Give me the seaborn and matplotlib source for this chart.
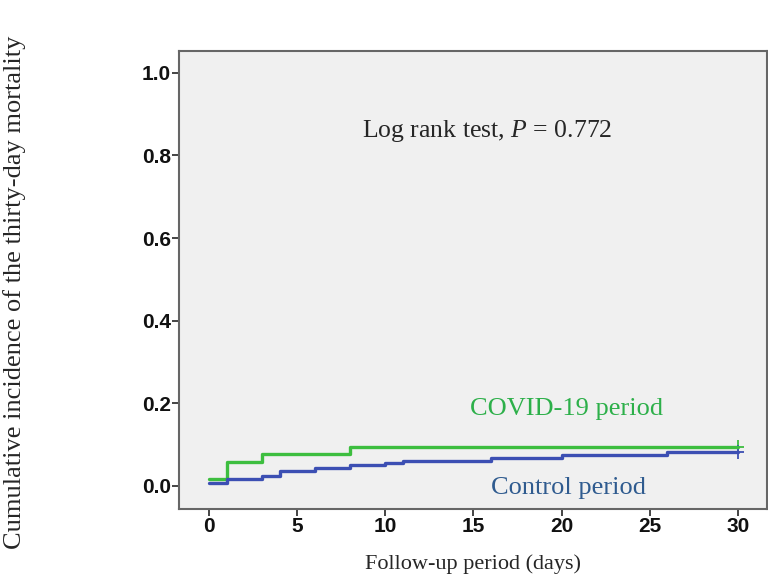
import pandas as pd
import seaborn as sns
import matplotlib.pyplot as plt

# 讀取曲線資料 (從圖上估計)
covid_days = [0, 1, 3, 8, 30]
covid_inc = [0.017, 0.057, 0.077, 0.094, 0.094]

control_days = [0, 1, 3, 4, 6, 8, 10, 11, 16, 20, 26, 30]
control_inc = [0.007, 0.017, 0.023, 0.036, 0.043, 0.050, 0.055, 0.060, 0.067, 0.075, 0.082, 0.082]

groups = ["COVID-19 period", "Control period"]
x_ticks = [0, 5, 10, 15, 20, 25, 30]
y_ticks = [0.0, 0.2, 0.4, 0.6, 0.8, 1.0]

green = "#3DBE3F"
blue = "#3C4FB3"

df = pd.concat([
    pd.DataFrame({"day": covid_days, "inc": covid_inc, "group": groups[0]}),
    pd.DataFrame({"day": control_days, "inc": control_inc, "group": groups[1]}),
])
ends = df.groupby("group", sort=False).tail(1)

sns.set_style("ticks")
plt.rcParams["font.family"] = ["Liberation Sans", "DejaVu Sans"]
plt.rcParams["mathtext.fontset"] = "custom"
plt.rcParams["mathtext.rm"] = "Liberation Serif"
plt.rcParams["mathtext.it"] = "Liberation Serif:italic"

fig = plt.figure(figsize=(7.68, 5.82), dpi=100)
ax = fig.add_axes([0.2331, 0.1254, 0.7656, 0.787])
ax.set_facecolor("#F0F0F0")

sns.lineplot(data=df, x="day", y="inc", hue="group", palette=[green, blue],
             drawstyle="steps-post", linewidth=2.4, legend=False, ax=ax)
sns.scatterplot(data=ends, x="day", y="inc", hue="group", palette=[green, blue],
                marker="+", s=90, linewidth=1.3, legend=False, ax=ax)

ax.set_xlim(-1.7, 31.65)
ax.set_ylim(-0.056, 1.053)
ax.set_xticks(x_ticks)
ax.set_yticks(y_ticks)
ax.set_yticklabels([f"{v:.1f}" for v in y_ticks])

for s in ax.spines.values():
    s.set_visible(True)
    s.set_color("#666666")
    s.set_linewidth(1.5)

ax.tick_params(direction="out", length=5, width=1.4, color="#444444",
               labelsize=15, pad=1)
for lab in ax.get_xticklabels() + ax.get_yticklabels():
    lab.set_fontweight("bold")
    lab.set_color("#111111")

serif = ["Liberation Serif", "DejaVu Serif"]
ax.set_xlabel("Follow-up period (days)", family=serif, fontsize=16, labelpad=13)
ax.set_ylabel("Cumulative incidence of the thirty-day mortality", family=serif, fontsize=19)
ax.yaxis.set_label_coords(-0.26, 0.474)

ax.text(15.75, 0.86, "Log rank test, $P$ = 0.772", family=serif, fontsize=18.5,
        ha="center", va="center")
ax.text(20.3, 0.185, "COVID-19 period", family=serif, fontsize=19, color="#2DB04A",
        ha="center", va="center")
ax.text(20.4, -0.005, "Control period", family=serif, fontsize=19, color="#2F5B8F",
        ha="center", va="center")

plt.savefig("out.png", dpi=100)
